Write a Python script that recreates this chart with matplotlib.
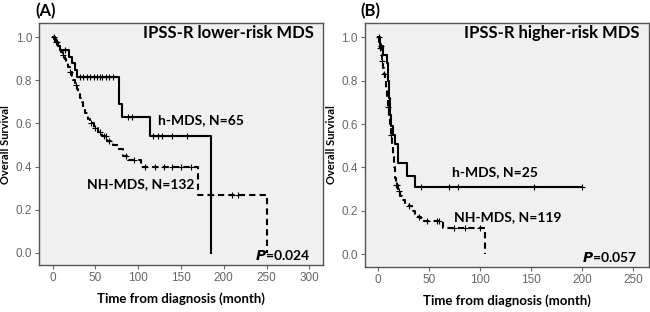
import numpy as np
import matplotlib.pyplot as plt

plt.rcParams['font.family'] = ['Lato', 'DejaVu Sans']

# Panel A: IPSS-R lower-risk
a_h_t = [0, 3, 6, 9, 19, 23, 26, 28, 77, 81, 114, 185]
a_h_s = [1.0, 0.98, 0.96, 0.94, 0.91, 0.88, 0.85, 0.815, 0.69, 0.63, 0.54, 0.0]
a_h_cens = [2, 4, 14, 32, 36, 40, 44, 48, 52, 55, 58, 62, 66, 70, 88, 93, 117, 123, 128, 140, 157]

a_nh_t = [0, 2, 4, 6, 8, 10, 12, 14, 16, 18, 20, 22, 24, 26, 28, 30, 32, 34, 36, 38, 41, 44,
          48, 53, 58, 64, 70, 76, 82, 88, 103, 170, 250]
a_nh_s = [1.0, 0.99, 0.98, 0.96, 0.95, 0.93, 0.92, 0.90, 0.88, 0.86, 0.84, 0.82, 0.80, 0.78,
          0.76, 0.74, 0.72, 0.70, 0.67, 0.65, 0.62, 0.60, 0.58, 0.56, 0.54, 0.52, 0.50, 0.48,
          0.45, 0.43, 0.40, 0.27, 0.0]
a_nh_cens = [5, 12, 20, 27, 45, 50, 55, 60, 62, 66, 86, 95, 108, 120, 130, 140, 150, 162, 185, 210, 217]

# Panel B: IPSS-R higher-risk
b_h_t = [0, 2, 5, 9, 10, 11, 12, 13, 15, 17, 20, 28, 36]
b_h_s = [1.0, 0.96, 0.92, 0.88, 0.80, 0.72, 0.64, 0.59, 0.55, 0.51, 0.42, 0.36, 0.31]
b_h_cens = [1, 3, 42, 70, 78, 153, 200]
b_h_end = 200

b_nh_t = [0, 1, 2, 3, 4, 5, 6, 7, 8, 9, 10, 11, 12, 13, 14, 15, 16, 17, 18, 20, 22, 24, 27,
          30, 33, 36, 39, 42, 64, 105]
b_nh_s = [1.0, 0.98, 0.95, 0.92, 0.89, 0.86, 0.83, 0.80, 0.76, 0.72, 0.68, 0.64, 0.60, 0.55,
          0.50, 0.45, 0.40, 0.35, 0.32, 0.29, 0.27, 0.25, 0.23, 0.22, 0.20, 0.18, 0.17, 0.155,
          0.12, 0.0]
b_nh_cens = [2, 4, 6, 10, 13, 18, 19, 21, 30, 40, 48, 58, 60, 75, 85, 100]


def surv_at(t, s, x):
    idx = np.searchsorted(t, x, side='right') - 1
    return np.array(s)[idx]


def km(ax, t, s, cens, dashed, end=None):
    t = list(t); s = list(s)
    if end is not None and end > t[-1]:
        t = t + [end]; s = s + [s[-1]]
    ln, = ax.step(t, s, where='post', color='black', lw=1.5)
    if dashed:
        ln.set_dashes((3, 2))
    cy = surv_at(np.array(t), s, np.array(cens))
    ax.plot(cens, cy, '+', color='black', ms=5, mew=0.8)


fig = plt.figure(figsize=(6.5, 3.12), dpi=100)
axA = fig.add_axes([0.06, 0.150, 0.437, 0.776])
axB = fig.add_axes([0.5615, 0.145, 0.437, 0.781])

km(axA, a_h_t, a_h_s, a_h_cens, False)
km(axA, a_nh_t, a_nh_s, a_nh_cens, True)
km(axB, b_h_t, b_h_s, b_h_cens, False, end=b_h_end)
km(axB, b_nh_t, b_nh_s, b_nh_cens, True)

for ax in (axA, axB):
    ax.set_facecolor('#f0f0f0')
    for sp in ax.spines.values():
        sp.set_color('#555555')
        sp.set_linewidth(1.0)
    ax.set_ylim(-0.058, 1.066)
    ax.set_yticks([0.0, 0.2, 0.4, 0.6, 0.8, 1.0])
    ax.set_yticklabels(['0.0', '0.2', '0.4', '0.6', '0.8', '1.0'])
    ax.tick_params(colors='#666666', labelsize=8.5, length=3, pad=2)
    for lb in ax.get_xticklabels() + ax.get_yticklabels():
        lb.set_family('Liberation Sans')
    ax.set_ylabel('Overall Survival', fontsize=8, fontweight='bold', labelpad=3)
    ax.set_xlabel('Time from diagnosis (month)', fontsize=9.5, fontweight='bold', labelpad=6)

axA.set_xlim(-16, 316)
axA.set_xticks([0, 50, 100, 150, 200, 250, 300])
axB.set_xlim(-12.7, 265.6)
axB.set_xticks([0, 50, 100, 150, 200, 250])

axA.text(305, 1.02, 'IPSS-R lower-risk MDS', ha='right', va='center', fontsize=12, fontweight='bold')
axA.text(123, 0.615, 'h-MDS, N=65', ha='left', va='center', fontsize=10, fontweight='bold')
axA.text(40, 0.32, 'NH-MDS, N=132', ha='left', va='center', fontsize=10, fontweight='bold')
axA.text(301, -0.01, r'$\bfit{P}$=0.024', ha='right', va='center', fontsize=10, fontweight='bold')

axB.text(256, 1.02, 'IPSS-R higher-risk MDS', ha='right', va='center', fontsize=12, fontweight='bold')
axB.text(73, 0.38, 'h-MDS, N=25', ha='left', va='center', fontsize=10, fontweight='bold')
axB.text(75, 0.17, 'NH-MDS, N=119', ha='left', va='center', fontsize=10, fontweight='bold')
axB.text(254, -0.015, r'$\bfit{P}$=0.057', ha='right', va='center', fontsize=10, fontweight='bold')

fig.text(0.054, 0.965, '(A)', fontsize=12, fontweight='bold', va='center')
fig.text(0.554, 0.965, '(B)', fontsize=12, fontweight='bold', va='center')

fig.savefig('out.png', dpi=100)
